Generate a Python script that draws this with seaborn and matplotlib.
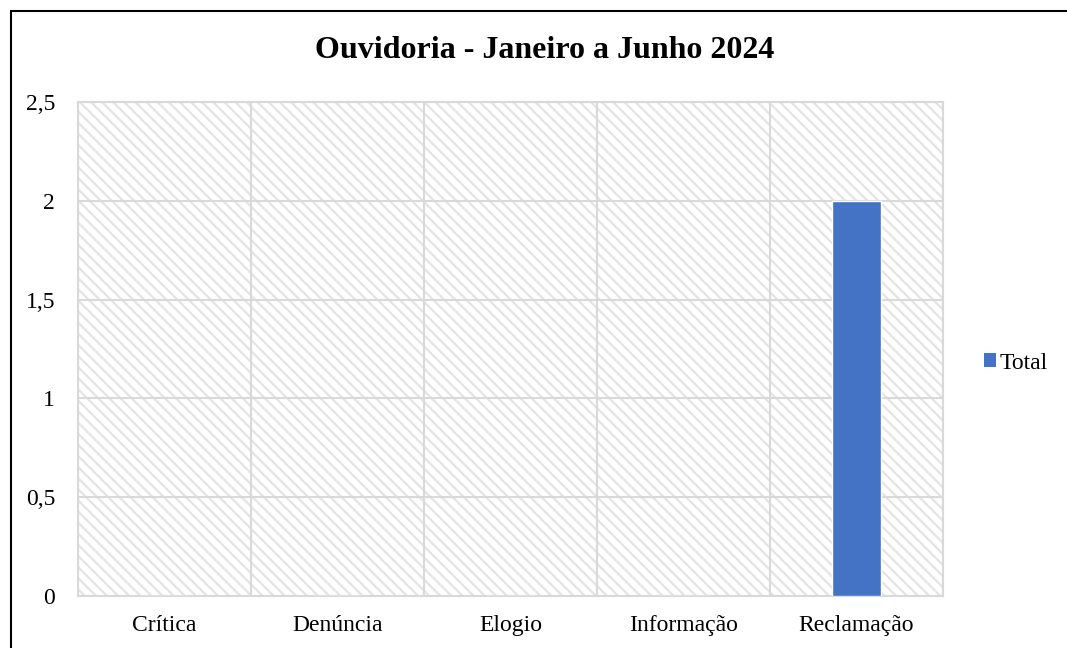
import numpy as np
import pandas as pd
import matplotlib
matplotlib.use("Agg")
import matplotlib.pyplot as plt
from matplotlib.patches import Rectangle
from matplotlib.lines import Line2D
import seaborn as sns

categorias = ["Crítica", "Denúncia", "Elogio", "Informação", "Reclamação"]
totais = [0, 0, 0, 0, 2]
y_ticks = [0, 0.5, 1, 1.5, 2, 2.5]
y_labels = ["0", "0,5", "1", "1,5", "2", "2,5"]
titulo = "Ouvidoria - Janeiro a Junho 2024"

df = pd.DataFrame({"Categoria": categorias, "Total": totais})

sns.set_theme(style="white")
plt.rcParams["font.family"] = ["Liberation Serif", "DejaVu Serif"]
plt.rcParams["hatch.linewidth"] = 1.6

grid_col = "#d9d9d9"

fig = plt.figure(figsize=(10.67, 6.48), dpi=100)
ax = fig.add_axes([78 / 1067, 1 - 596 / 648, (943 - 78) / 1067, (596 - 102) / 648])

# fundo hachurado da area do grafico
bg = Rectangle((0, 0), 1, 1, transform=ax.transAxes, facecolor="white",
               edgecolor="#e4e4e4", hatch="\\" * 3, lw=0, zorder=0)
ax.add_patch(bg)

sns.barplot(data=df, x="Categoria", y="Total", color="#4472C4", width=0.28,
            saturation=1, ax=ax, zorder=3)

ax.set_xlim(-0.5, len(categorias) - 0.5)
ax.set_ylim(0, 2.5)
ax.set_yticks(y_ticks)
ax.set_yticklabels(y_labels)
ax.set_xticks(range(len(categorias)))
ax.set_xticklabels(categorias)
ax.set_xticks(np.arange(-0.5, len(categorias), 1), minor=True)
ax.tick_params(axis="both", which="both", length=0, labelsize=17, colors="black")
ax.tick_params(axis="y", pad=16.5)
ax.tick_params(axis="x", pad=14)
ax.set_xlabel("")
ax.set_ylabel("")

ax.grid(False)
ax.yaxis.grid(True, color=grid_col, lw=1.5, zorder=1)
ax.xaxis.grid(True, which="minor", color=grid_col, lw=1.5, zorder=1)
ax.set_axisbelow(True)
for s in ax.spines.values():
    s.set_color(grid_col)
    s.set_linewidth(1.5)

# legenda
handle = Rectangle((0, 0), 1, 1, facecolor="#4472C4", edgecolor="none")
fig.legend([handle], ["Total"], loc="center left", bbox_to_anchor=(984 / 1067, 1 - 363 / 648),
           frameon=False, fontsize=17, handlelength=0.5, handleheight=0.5,
           handletextpad=0.15, borderaxespad=0, borderpad=0, labelcolor="black")

fig.text(545 / 1067, 1 - 51 / 648, titulo, ha="center", va="center",
         fontsize=23, fontweight="bold", color="black")

# borda do grafico (esquerda e topo)
fig.add_artist(Line2D([10.5 / 1067, 10.5 / 1067], [0, 1 - 11 / 648], color="black", lw=1.5))
fig.add_artist(Line2D([10.5 / 1067, 1], [1 - 11 / 648, 1 - 11 / 648], color="black", lw=1.5))

fig.savefig("out.png", dpi=100)
